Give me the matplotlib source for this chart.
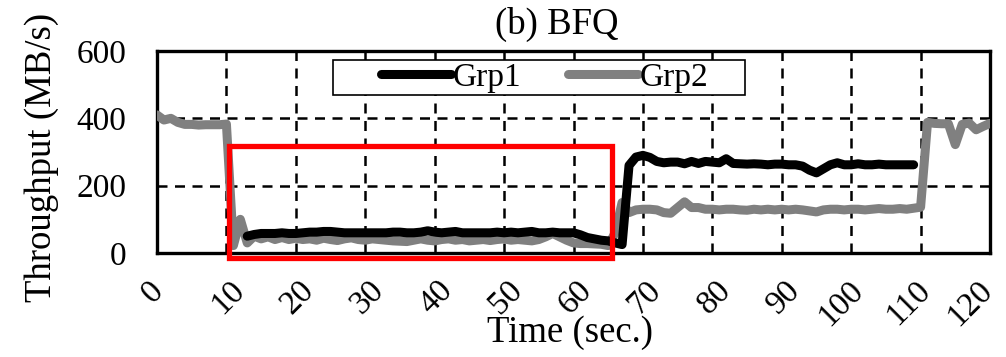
import matplotlib
matplotlib.use("Agg")
import matplotlib.pyplot as plt
from matplotlib.patches import Rectangle
from matplotlib.lines import Line2D
from matplotlib.transforms import ScaledTranslation

plt.rcParams['font.family'] = ['Liberation Serif', 'DejaVu Serif']

# Throughput samples, one per second
time_grp2 = list(range(0, 121))
grp2 = [410, 395, 400, 388, 382, 382, 380, 381, 381, 381,
        383, 22, 100, 30, 50, 42, 48, 40, 46, 40,
        44, 40, 42, 38, 44, 40, 37, 42, 45, 40,
        38, 42, 40, 38, 36, 35, 34, 38, 42, 38,
        36, 40, 42, 38, 40, 36, 38, 40, 37, 40,
        42, 38, 40, 38, 36, 40, 48, 58, 48, 38,
        30, 28, 28, 27, 26, 22, 60, 150, 120, 128,
        130, 130, 128, 120, 118, 135, 152, 135, 135, 130,
        130, 128, 130, 130, 128, 127, 130, 128, 130, 128,
        130, 128, 130, 128, 125, 122, 128, 130, 130, 128,
        130, 130, 128, 130, 132, 130, 130, 132, 130, 133,
        136, 388, 385, 384, 384, 322, 382, 386, 366, 376,
        385]

time_grp1 = list(range(13, 110))
grp1 = [50, 55, 58, 58, 58, 60, 58,
        58, 60, 62, 62, 64, 64, 62, 60, 60, 60,
        60, 60, 60, 60, 62, 62, 60, 60, 62, 66,
        62, 60, 62, 64, 60, 60, 60, 60, 60, 62,
        60, 62, 60, 62, 64, 60, 60, 62, 60, 60,
        60, 54, 46, 42, 38, 36, 30, 25, 260, 285,
        290, 284, 272, 268, 270, 270, 265, 272, 266, 272,
        270, 268, 280, 266, 265, 264, 265, 264, 262, 264,
        264, 262, 262, 258, 246, 238, 250, 262, 268, 262,
        262, 265, 262, 262, 264, 262, 262, 262, 262, 262]

x_ticks = list(range(0, 121, 10))
y_ticks = [0, 200, 400, 600]

# Highlighted interval (time range, throughput range)
box_time = (10.4, 65.5)
box_tput = (-16, 318)

fig = plt.figure(figsize=(10.06, 3.57), dpi=100)
ax = fig.add_axes([157/1006, 1 - 253/357, (990 - 157)/1006, (253 - 51)/357])

line_kw = dict(linewidth=6.5, solid_joinstyle='round', solid_capstyle='round')
ax.plot(time_grp2, grp2, color='#808080', zorder=3, **line_kw)
ax.plot(time_grp1, grp1, color='black', zorder=3, **line_kw)

ax.set_xlim(0, 120)
ax.set_ylim(0, 600)
ax.set_xticks(x_ticks)
ax.set_yticks(y_ticks)
ax.grid(True, color='black', linestyle=(0, (4, 3)), linewidth=1.8)
ax.set_axisbelow(True)
for sp in ax.spines.values():
    sp.set_linewidth(2.4)

ax.tick_params(axis='both', length=0, labelsize=24)
ax.tick_params(axis='y', pad=22)
ax.tick_params(axis='x', pad=16)

# nudge the widest rotated labels so they stay inside the figure
x_shift = {0: -4, 100: -10, 110: -12, 120: -20}
for t, lab in zip(x_ticks, ax.get_xticklabels()):
    lab.set_rotation(45)
    lab.set_ha('center')
    dx = x_shift.get(t, 2)
    lab.set_transform(lab.get_transform() + ScaledTranslation(dx / 100, 0, fig.dpi_scale_trans))

ax.add_patch(Rectangle((box_time[0], box_tput[0]),
                       box_time[1] - box_time[0], box_tput[1] - box_tput[0],
                       fill=False, edgecolor='#ff0000', linewidth=3.8,
                       clip_on=False, zorder=4))

# Legend inside a plain box
handles = [Line2D([], [], color='black', **line_kw),
           Line2D([], [], color='#808080', **line_kw)]
leg_box = Rectangle((333/1006, 1 - 95/357), (745 - 333)/1006, 35/357,
                    transform=fig.transFigure, facecolor='white',
                    edgecolor='black', linewidth=1.2, zorder=5)
fig.patches.append(leg_box)
leg = fig.legend(handles, ['Grp1', 'Grp2'], loc='center',
                 bbox_to_anchor=(545/1006, 1 - 77.5/357), ncol=2,
                 frameon=False, fontsize=24, handlelength=2.1,
                 handletextpad=0.05, columnspacing=1.4, borderpad=0)
leg.set_zorder(6)

fig.text(557/1006, 1 - 24/357, '(b) BFQ', fontsize=26.5, ha='center', va='center')
fig.text(570/1006, 1 - 333/357, 'Time (sec.)', fontsize=26.5, ha='center', va='center')
fig.text(42/1006, 1 - 157/357, 'Throughput (MB/s)', fontsize=26.5,
         ha='center', va='center', rotation=90)

fig.savefig('out.png', dpi=100)
